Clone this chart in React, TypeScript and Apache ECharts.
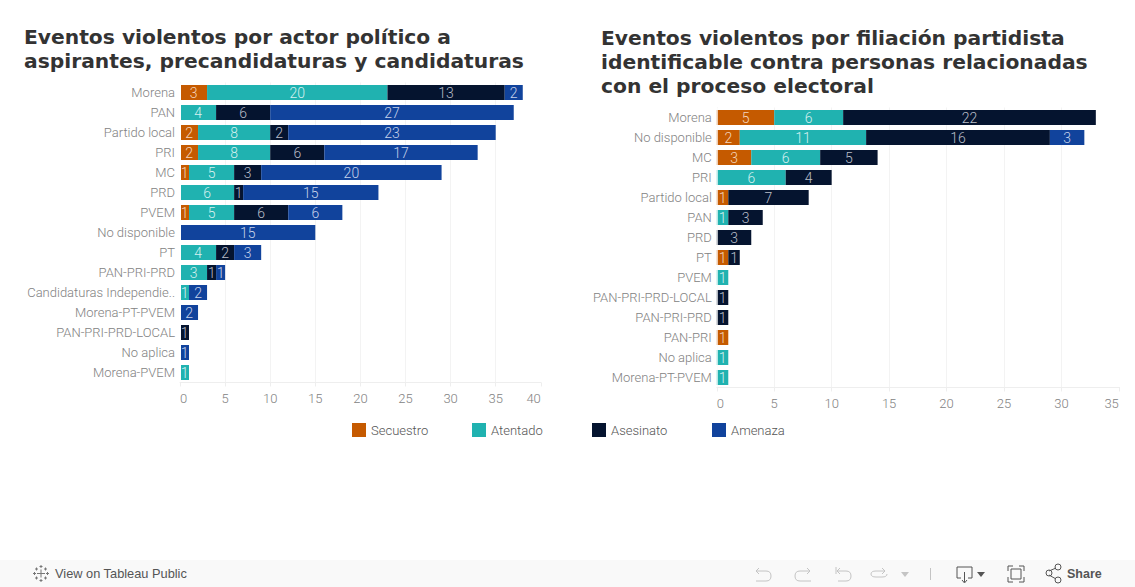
import React, { useEffect, useRef } from "react";
import * as echarts from "echarts";

const seriesNames = ["Secuestro", "Atentado", "Asesinato", "Amenaza"];
const seriesColors = ["#c55a00", "#20b2b0", "#05142f", "#11439c"];
const labelColors = ["#f4d5bd", "#d5f0ef", "#b9bec8", "#c6d2ea"];

const leftTitle = "Eventos violentos por actor político a\naspirantes, precandidaturas y candidaturas";
const rightTitle = "Eventos violentos por filiación partidista\nidentificable contra personas relacionadas\ncon el proceso electoral";

const leftCategories = ["Morena", "PAN", "Partido local", "PRI", "MC", "PRD", "PVEM", "No disponible", "PT", "PAN-PRI-PRD", "Candidaturas Independie..", "Morena-PT-PVEM", "PAN-PRI-PRD-LOCAL", "No aplica", "Morena-PVEM"];
const leftSecuestro = [3, null, 2, 2, 1, null, 1, null, null, null, null, null, null, null, null];
const leftAtentado = [20, 4, 8, 8, 5, 6, 5, null, 4, 3, 1, null, null, null, 1];
const leftAsesinato = [13, 6, 2, 6, 3, 1, 6, null, 2, 1, null, null, 1, null, null];
const leftAmenaza = [2, 27, 23, 17, 20, 15, 6, 15, 3, 1, 2, 2, null, 1, null];

const rightCategories = ["Morena", "No disponible", "MC", "PRI", "Partido local", "PAN", "PRD", "PT", "PVEM", "PAN-PRI-PRD-LOCAL", "PAN-PRI-PRD", "PAN-PRI", "No aplica", "Morena-PT-PVEM"];
const rightSecuestro = [5, 2, 3, null, 1, null, null, 1, null, null, null, 1, null, null];
const rightAtentado = [6, 11, 6, 6, null, 1, null, null, 1, null, null, null, 1, 1];
const rightAsesinato = [22, 16, 5, 4, 7, 3, 3, 1, null, 1, 1, null, null, null];
const rightAmenaza = [null, 3, null, null, null, null, null, null, null, null, null, null, null, null];

const FONT = "Roboto";
const WEIGHT = 300;
const ICON = "#9a9a9a";
const icons: Record<string, string> = {
  undo1: "M759 568 L756 571 L759 574 M756 571 L766 571 Q771 571 771 576 Q771 581 766 581 L756 581",
  redo1: "M807 568 L810 571 L807 574 M810 571 L800 571 Q795 571 795 576 Q795 581 800 581 L811 581",
  undo2: "M836 567 L836 574 M840 568 L837 571 L840 574 M837 571 L846 571 Q851 571 851 576 Q851 581 846 581 L838 581",
  redo2: "M882 568 L885 571 L882 574 M885 571 L876 571 Q871 571 871 574 Q871 577 876 577 L882 577 Q887 577 887 574",
  download: "M961 578 L957 578 L957 567 L972 567 L972 578 L968 578 M964.5 572 L964.5 582 M962 580 L964.5 583 L967 580",
  full: "M1008 571 L1008 566 L1013 566 M1019 566 L1024 566 L1024 571 M1024 577 L1024 582 L1019 582 M1013 582 L1008 582 L1008 577 M1011 569 L1021 569 L1021 579 L1011 579 Z",
  share: "M1049 571 L1056 568 M1049 575 L1056 579 M1046 573 a3 3 0 1 0 6 0 a3 3 0 1 0 -6 0 M1055 567 a3 3 0 1 0 6 0 a3 3 0 1 0 -6 0 M1055 580 a3 3 0 1 0 6 0 a3 3 0 1 0 -6 0",
  logo: "M41 569.5 L41 577.5 M37 573.5 L45 573.5 M41 565 L41 568 M39.5 566.5 L42.5 566.5 M41 579 L41 582 M39.5 580.5 L42.5 580.5 M33 573.5 L36 573.5 M34.5 572 L34.5 575 M46 573.5 L49 573.5 M47.5 572 L47.5 575 M36.5 567.5 L36.5 570.5 M35 569 L38 569 M45.5 567.5 L45.5 570.5 M44 569 L47 569 M36.5 576.5 L36.5 579.5 M35 578 L38 578 M45.5 576.5 L45.5 579.5 M44 578 L47 578",
};
Object.keys(icons).forEach((k) => {
  echarts.graphic.registerShape("tb_" + k, echarts.graphic.extendPath(icons[k], {}) as any);
});

function stackSeries(data: (number | null)[][], axisIndex: number) {
  return data.map((values, i) => ({
    type: "bar",
    name: seriesNames[i],
    stack: "s" + axisIndex,
    xAxisIndex: axisIndex,
    yAxisIndex: axisIndex,
    barWidth: 15,
    data: values,
    itemStyle: { color: seriesColors[i] },
    label: {
      show: true,
      position: "inside",
      color: labelColors[i],
      fontFamily: FONT,
      fontWeight: WEIGHT,
      fontSize: 14,
    },
  }));
}

function valueAxis(gridIndex: number, max: number) {
  return {
    type: "value",
    gridIndex,
    min: 0,
    max,
    interval: 5,
    axisLine: { show: true, lineStyle: { color: "#eeeeee" } },
    axisTick: { show: true, length: 4, lineStyle: { color: "#eeeeee" } },
    splitLine: { show: true, showMaxLine: false, lineStyle: { color: "#f3f3f3" } },
    axisLabel: {
      color: "#828282",
      fontFamily: FONT,
      fontWeight: WEIGHT,
      fontSize: 13,
      margin: 9,
      alignMinLabel: "left",
      alignMaxLabel: "right",
    },
  };
}

function categoryAxis(gridIndex: number, data: string[]) {
  return {
    type: "category",
    gridIndex,
    inverse: true,
    data,
    axisLine: { show: false },
    axisTick: { show: false },
    axisLabel: {
      color: "#828282",
      fontFamily: FONT,
      fontWeight: WEIGHT,
      fontSize: 13,
      margin: 5,
      interval: 0,
    },
  };
}

function legendAt(name: string, left: number) {
  return {
    data: [name],
    left,
    top: 423,
    padding: 0,
    itemWidth: 14,
    itemHeight: 14,
    itemGap: 0,
    selectedMode: false,
    icon: "rect",
    textStyle: { color: "#555555", fontFamily: FONT, fontSize: 13, fontWeight: WEIGHT, padding: [0, 0, 0, 0] },
  };
}

const stroke = (k: string, extra: any = {}) => ({
  type: "tb_" + k,
  silent: true,
  style: { fill: "none", stroke: ICON, lineWidth: 1, ...extra },
});

export default function App() {
  const ref = useRef<HTMLDivElement>(null);
  useEffect(() => {
    const chart = echarts.init(ref.current!, undefined, { renderer: "svg" });
    chart.setOption({
      animation: false,
      backgroundColor: "#ffffff",
      title: [
        {
          text: leftTitle,
          left: 24,
          top: 25,
          padding: 0,
          textStyle: { fontFamily: "DejaVu Sans", fontWeight: "bold", fontSize: 20.25, lineHeight: 24, color: "#333333" },
        },
        {
          text: rightTitle,
          left: 601,
          top: 26,
          padding: 0,
          textStyle: { fontFamily: "DejaVu Sans", fontWeight: "bold", fontSize: 20.25, lineHeight: 24, color: "#333333" },
        },
      ],
      grid: [
        { left: 180, width: 360.8, top: 82.5, height: 300, containLabel: false },
        { left: 716.8, width: 402, top: 107.5, height: 280, containLabel: false },
      ],
      xAxis: [valueAxis(0, 40), valueAxis(1, 35)],
      yAxis: [categoryAxis(0, leftCategories), categoryAxis(1, rightCategories)],
      legend: [
        legendAt(seriesNames[0], 352),
        legendAt(seriesNames[1], 472),
        legendAt(seriesNames[2], 592),
        legendAt(seriesNames[3], 712),
      ],
      series: [
        ...stackSeries([leftSecuestro, leftAtentado, leftAsesinato, leftAmenaza], 0),
        ...stackSeries([rightSecuestro, rightAtentado, rightAsesinato, rightAmenaza], 1),
      ],
      graphic: [
        { type: "rect", silent: true, z: 100, shape: { x: 180, y: 83, width: 1, height: 299 }, style: { fill: "#ffffff" } },
        { type: "rect", silent: true, z: 100, shape: { x: 716.8, y: 108, width: 0.9, height: 279 }, style: { fill: "#ffffff" } },
        { type: "line", silent: true, shape: { x1: 1118.5, y1: 387.5, x2: 1120, y2: 387.5 }, style: { stroke: "#eeeeee", lineWidth: 1 } },
        { type: "rect", silent: true, z: -1, shape: { x: 0, y: 560, width: 1135, height: 27 }, style: { fill: "#f9f9f9" } },
        stroke("logo", { stroke: "#777777" }),
        { type: "text", x: 55, y: 567, style: { text: "View on Tableau Public", fontFamily: "Liberation Sans", fontSize: 12.8, fill: "#555555" } },
        stroke("undo1", { stroke: "#c4c4c4" }),
        stroke("redo1", { stroke: "#c4c4c4" }),
        stroke("undo2", { stroke: "#c4c4c4" }),
        stroke("redo2", { stroke: "#c4c4c4" }),
        { type: "polygon", shape: { points: [[901, 572], [909, 572], [905, 577]] }, style: { fill: "#c4c4c4" } },
        { type: "line", shape: { x1: 930.5, y1: 568, x2: 930.5, y2: 580 }, style: { stroke: "#c4c4c4", lineWidth: 1 } },
        stroke("download", { stroke: "#555555" }),
        { type: "polygon", shape: { points: [[977, 572], [985, 572], [981, 577]] }, style: { fill: "#555555" } },
        stroke("full", { stroke: "#555555" }),
        stroke("share", { stroke: "#555555" }),
        { type: "text", x: 1067, y: 567, style: { text: "Share", fontFamily: "Liberation Sans", fontSize: 12.5, fontWeight: "bold", fill: "#555555" } },
      ],
    });
    return () => chart.dispose();
  }, []);
  return <div ref={ref} style={{ position: "fixed", left: 0, top: 0, width: 1135, height: 587 }} />;
}
